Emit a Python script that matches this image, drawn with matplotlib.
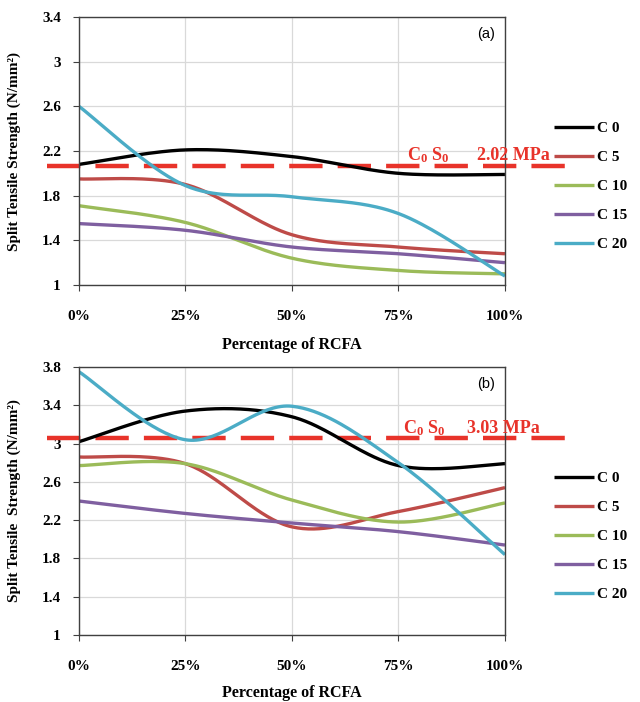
import matplotlib
matplotlib.use("Agg")
import matplotlib.pyplot as plt
from matplotlib.ticker import FuncFormatter, MultipleLocator, FixedLocator
import numpy as np

plt.rcParams['font.family'] = ['Liberation Serif', 'DejaVu Serif']
plt.rcParams['font.weight'] = 'bold'
plt.rcParams['axes.labelweight'] = 'bold'
plt.rcParams['mathtext.fontset'] = 'custom'
plt.rcParams['mathtext.rm'] = 'Liberation Serif:bold'
plt.rcParams['mathtext.it'] = 'Liberation Serif:italic:bold'
plt.rcParams['mathtext.bf'] = 'Liberation Serif:bold'

# percentage of RCFA
rcfa = [0, 25, 50, 75, 100]
series_names = ['C 0', 'C 5', 'C 10', 'C 15', 'C 20']
colors = ['#000000', '#BE4B48', '#9BBB59', '#7F5FA0', '#4BACC6']

# panel (a)
a_c0 = [2.08, 2.21, 2.15, 2.00, 1.99]
a_c5 = [1.95, 1.90, 1.45, 1.34, 1.28]
a_c10 = [1.71, 1.56, 1.24, 1.13, 1.10]
a_c15 = [1.55, 1.49, 1.34, 1.28, 1.20]
a_c20 = [2.60, 1.89, 1.79, 1.64, 1.08]
a_ref = 2.065
a_ref_label = '2.02 MPa'
a_yticks = [1, 1.4, 1.8, 2.2, 2.6, 3, 3.4]

# panel (b)
b_c0 = [3.02, 3.34, 3.28, 2.77, 2.79]
b_c5 = [2.86, 2.79, 2.13, 2.29, 2.54]
b_c10 = [2.77, 2.79, 2.41, 2.18, 2.38]
b_c15 = [2.40, 2.27, 2.17, 2.08, 1.94]
b_c20 = [3.75, 3.04, 3.39, 2.80, 1.84]
b_ref = 3.06
b_ref_label = '3.03 MPa'
b_yticks = [1, 1.4, 1.8, 2.2, 2.6, 3, 3.4, 3.8]


def smooth(x, y, n=40):
    # excel style smoothed line (bezier through the points)
    pts = np.column_stack([x, y]).astype(float)
    P = np.vstack([pts[0], pts, pts[-1]])
    out = []
    t = np.linspace(0, 1, n)[:, None]
    for i in range(1, len(P) - 2):
        p0, p1, p2, p3 = P[i - 1], P[i], P[i + 1], P[i + 2]
        c1 = p1 + (p2 - p0) / 6
        c2 = p2 - (p3 - p1) / 6
        seg = (1 - t)**3 * p1 + 3 * (1 - t)**2 * t * c1 + 3 * (1 - t) * t**2 * c2 + t**3 * p2
        out.append(seg if i == 1 else seg[1:])
    out = np.vstack(out)
    return out[:, 0], out[:, 1]


def draw_panel(ax, data, yticks, ref, ref_label, ref_x_end, tag, ylabel, text_y, c_x, mpa_x):
    ax.set_xlim(0, 100)
    ax.set_ylim(yticks[0], yticks[-1])
    ax.yaxis.set_major_locator(FixedLocator(yticks))
    ax.xaxis.set_major_locator(MultipleLocator(25))
    ax.xaxis.set_major_formatter(FuncFormatter(lambda v, p: '%d%%' % v))
    ax.yaxis.set_major_formatter(FuncFormatter(lambda v, p: '%g' % round(v, 1)))
    ax.grid(True, color='#D9D9D9', lw=0.9)
    ax.set_axisbelow(True)
    for s in ax.spines.values():
        s.set_color('#404040')
        s.set_linewidth(1.0)
    ax.tick_params(axis='x', length=4, pad=14, labelsize=11, color='#404040')
    ax.tick_params(axis='y', length=4, pad=9, labelsize=11, color='#404040')

    tr = ax.get_yaxis_transform()
    ax.plot([-0.075, ref_x_end], [ref, ref], transform=tr, clip_on=False,
            color='#E8332A', lw=3.2, linestyle=(0, (7.5, 3.4)), zorder=1.8)

    for vals, name, col in zip(data, series_names, colors):
        xs, ys = smooth(rcfa, vals)
        ax.plot(xs, ys, color=col, lw=2.4, label=name, solid_capstyle='butt', zorder=2)

    ax.text(c_x, text_y, r'C$_0$ S$_0$', transform=ax.transAxes, color='#E8332A',
            fontsize=13, va='center', ha='left', zorder=6)
    ax.text(mpa_x, text_y, ref_label, transform=ax.transAxes, color='#E8332A',
            fontsize=13, va='center', ha='left', zorder=6)
    ax.text(0.955, 0.935, tag, transform=ax.transAxes, family='Liberation Sans',
            weight='normal', fontsize=10.5, ha='center', va='center')

    ax.legend(loc='center left', bbox_to_anchor=(1.115, 0.368), frameon=False,
              fontsize=11, handlelength=2.6, handletextpad=0.25, labelspacing=1.0,
              borderpad=0, borderaxespad=0)
    ax.set_ylabel(ylabel, fontsize=11, fontweight='bold')
    ax.yaxis.set_label_coords(-0.135, 0.5)


fig = plt.figure(figsize=(6.4, 7.02), dpi=100)
ax_a = fig.add_axes([0.1234, 0.594, 0.6656, 0.3818])
ax_b = fig.add_axes([0.1234, 0.0954, 0.6656, 0.3818])

draw_panel(ax_a, [a_c0, a_c5, a_c10, a_c15, a_c20], a_yticks, a_ref, a_ref_label, 1.146, '(a)',
           'Split Tensile Strength (N/mm²)', 0.485, 0.77, 0.934)
draw_panel(ax_b, [b_c0, b_c5, b_c10, b_c15, b_c20], b_yticks, b_ref, b_ref_label, 1.169, '(b)',
           'Split Tensile  Strength (N/mm²)', 0.772, 0.761, 0.911)

fig.text(0.456, (702 - 345) / 702, 'Percentage of RCFA', ha='center', va='center', fontsize=11.5)
fig.text(0.456, (702 - 693) / 702, 'Percentage of RCFA', ha='center', va='center', fontsize=11.5)

fig.savefig('out.png', dpi=100)
